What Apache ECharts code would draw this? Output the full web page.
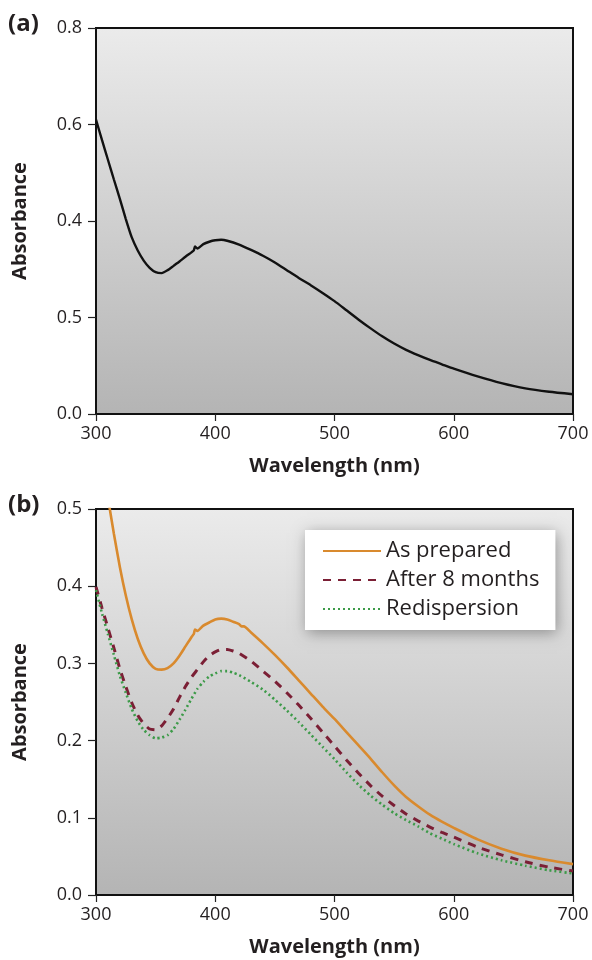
<!DOCTYPE html>
<html>
<head>
<meta charset="utf-8">
<script src="https://cdn.jsdelivr.net/npm/echarts@6/dist/echarts.min.js"></script>
<style>
html,body{margin:0;padding:0;background:#fff;}
#chart{width:592px;height:960px;}
</style>
</head>
<body>
<div id="chart"></div>
<script>
// ---- Panel (a) data ----
const wlA = [300,305,310,315,320,325,330,335,340,345,350,355,360,365,370,375,380,382,383,385,390,395,400,405,410,420,430,440,450,460,470,480,490,500,510,520,530,540,550,560,570,580,590,600,620,640,660,680,700];
const absA = [0.610,0.568,0.527,0.486,0.446,0.404,0.366,0.339,0.318,0.303,0.294,0.292,0.298,0.307,0.316,0.326,0.335,0.339,0.347,0.343,0.352,0.357,0.360,0.361,0.359,0.351,0.340,0.328,0.314,0.298,0.282,0.267,0.251,0.234,0.215,0.196,0.178,0.161,0.146,0.133,0.122,0.112,0.103,0.094,0.078,0.064,0.053,0.046,0.041];
const yTicksA = ['0.0','0.5','0.4','0.6','0.8'];

// ---- Panel (b) data ----
const wlPrep = [300,305,310,315,320,325,330,335,340,345,350,355,360,365,370,375,380,382,383,385,390,395,400,405,410,415,420,422,424,430,440,450,460,470,480,490,500,510,520,530,540,550,560,570,580,590,600,620,640,660,680,700];
const asPrepared = [0.630,0.570,0.515,0.468,0.425,0.388,0.357,0.332,0.313,0.300,0.293,0.292,0.294,0.300,0.310,0.322,0.334,0.338,0.344,0.342,0.349,0.353,0.357,0.358,0.357,0.354,0.351,0.348,0.348,0.340,0.326,0.311,0.295,0.278,0.261,0.244,0.228,0.211,0.194,0.177,0.159,0.142,0.127,0.115,0.104,0.095,0.087,0.072,0.060,0.051,0.045,0.040];
const wlB = [300,305,310,315,320,325,330,335,340,345,350,355,360,365,370,375,380,385,390,395,400,405,410,415,420,430,440,450,460,470,480,490,500,510,520,530,540,550,560,570,580,590,600,620,640,660,680,700];
const after8 = [0.399,0.372,0.346,0.320,0.293,0.270,0.249,0.233,0.222,0.215,0.214,0.219,0.229,0.241,0.256,0.270,0.282,0.292,0.302,0.310,0.315,0.318,0.318,0.316,0.313,0.303,0.290,0.277,0.262,0.246,0.229,0.211,0.193,0.175,0.158,0.142,0.128,0.116,0.105,0.096,0.088,0.081,0.075,0.062,0.052,0.043,0.036,0.031];
const redisp = [0.395,0.365,0.338,0.311,0.284,0.262,0.241,0.225,0.214,0.207,0.203,0.204,0.207,0.215,0.227,0.240,0.254,0.267,0.276,0.283,0.287,0.290,0.290,0.288,0.285,0.276,0.266,0.253,0.239,0.224,0.208,0.192,0.176,0.159,0.143,0.129,0.117,0.106,0.097,0.089,0.080,0.073,0.066,0.054,0.045,0.038,0.032,0.028];
const seriesNames = ['As prepared','After 8 months','Redispersion'];

const zip = (xs, ys) => xs.map((x,i)=>[x, ys[i]]);
const FONT = '"Open Sans", "Noto Sans", sans-serif';
const TXT = '#231f20';
const bg = {type:'linear',x:0,y:0,x2:0,y2:1,colorStops:[{offset:0,color:'#ebebeb'},{offset:1,color:'#b4b4b4'}]};

const chart = echarts.init(document.getElementById('chart'), null, {renderer:'canvas'});

function xAxis(idx){
  return {
    type:'value', gridIndex:idx, min:300, max:700, interval:100,
    name:'Wavelength (nm)', nameLocation:'middle', nameGap:42,
    nameTextStyle:{fontFamily:FONT, fontSize:20, fontWeight:'bold', color:TXT},
    axisLine:{show:true, onZero:false, lineStyle:{color:'#111', width:2}},
    axisTick:{show:true, length:7, lineStyle:{color:'#222', width:1.2}},
    axisLabel:{fontFamily:FONT, fontSize:18, color:TXT, margin:11},
    splitLine:{show:false}
  };
}
function yAxis(idx, max, interval, fmt){
  return {
    type:'value', gridIndex:idx, min:0, max:max, interval:interval,
    name:'Absorbance', nameLocation:'middle', nameGap:66, nameRotate:90,
    nameTextStyle:{fontFamily:FONT, fontSize:20, fontWeight:'bold', color:TXT},
    axisLine:{show:true, lineStyle:{color:'#111', width:2}},
    axisTick:{show:true, length:8, lineStyle:{color:'#222', width:1.2}},
    axisLabel:{fontFamily:FONT, fontSize:18, color:TXT, margin:14, formatter:fmt},
    splitLine:{show:false}
  };
}

function line(opts){
  return Object.assign({type:'line', symbol:'none', showSymbol:false, smooth:0.2, clip:true}, opts);
}

chart.setOption({
  animation:false,
  backgroundColor:'#fff',
  grid:[
    {left:96, top:28, width:477, height:386, show:true, backgroundColor:bg, borderColor:'#111', borderWidth:2},
    {left:96, top:509, width:477, height:386, show:true, backgroundColor:bg, borderColor:'#111', borderWidth:2}
  ],
  xAxis:[xAxis(0), xAxis(1)],
  yAxis:[
    yAxis(0, 0.8, 0.2, function(v){ return yTicksA[Math.round(v/0.2)]; }),
    yAxis(1, 0.5, 0.1, function(v){ return v.toFixed(1); })
  ],
  graphic:[
    {type:'text', left:8, top:12, style:{text:'(a)', font:'bold 24px '+FONT, fill:TXT}},
    {type:'text', left:8, top:493, style:{text:'(b)', font:'bold 24px '+FONT, fill:TXT}}
  ],
  legend:{
    show:true,
    data:seriesNames, orient:'vertical', left:305, top:530,
    backgroundColor:'#ffffff', borderWidth:0,
    shadowBlur:14, shadowColor:'rgba(0,0,0,0.35)', shadowOffsetX:2, shadowOffsetY:3,
    padding:[10,16,10,17], itemGap:7, itemWidth:58, itemHeight:14,
    itemStyle:{opacity:0},
    textStyle:{fontFamily:FONT, fontSize:22, color:TXT}
  },
  series:[
    line({name:'a', xAxisIndex:0, yAxisIndex:0, data:zip(wlA, absA),
      lineStyle:{color:'#111', width:2.4}}),
    line({name:seriesNames[0], xAxisIndex:1, yAxisIndex:1, data:zip(wlPrep, asPrepared),
      color:'#d98a2e', lineStyle:{color:'#d98a2e', width:2.6}}),
    line({name:seriesNames[1], xAxisIndex:1, yAxisIndex:1, data:zip(wlB, after8),
      color:'#7b1f35', lineStyle:{color:'#7b1f35', width:3, type:[8,7]}}),
    line({name:seriesNames[2], xAxisIndex:1, yAxisIndex:1, data:zip(wlB, redisp),
      color:'#3c9a48', lineStyle:{color:'#3c9a48', width:2.6, type:[2,3]}})
  ]
});
</script>
</body>
</html>
